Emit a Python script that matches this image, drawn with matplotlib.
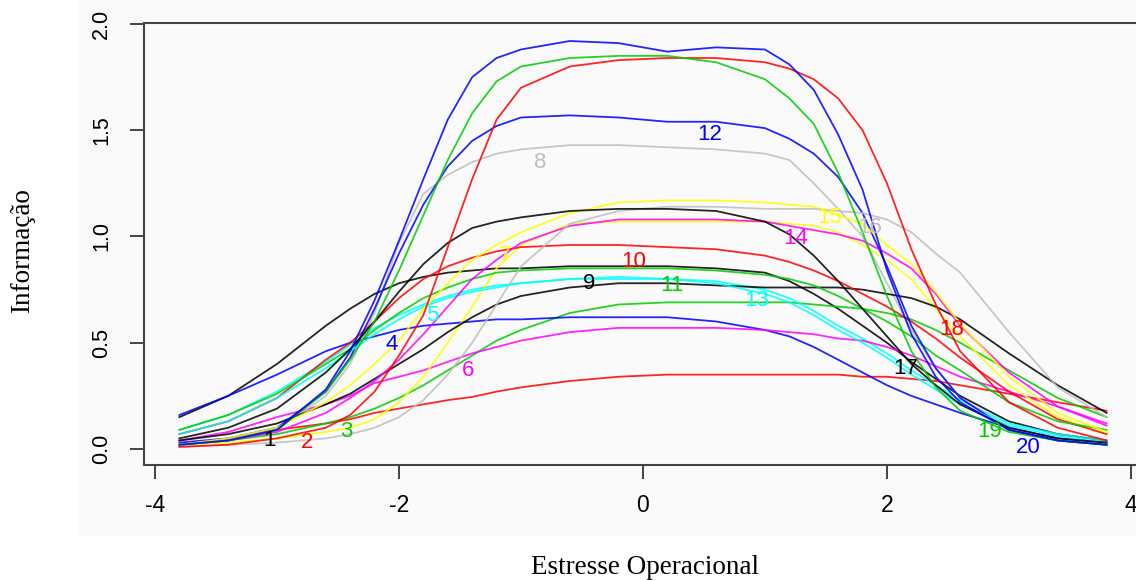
import matplotlib
matplotlib.use("Agg")
import matplotlib.pyplot as plt
from matplotlib.patches import Rectangle

# theta grid the curves were read on
theta = [-3.8, -3.4, -3.0, -2.6, -2.4, -2.2, -2.0, -1.8, -1.6, -1.4, -1.2, -1.0,
         -0.6, -0.2, 0.2, 0.6, 1.0, 1.2, 1.4, 1.6, 1.8, 2.0, 2.2, 2.4, 2.6, 3.0, 3.4, 3.8]

# item information (items 1..20)
info_01 = [.15, .25, .40, .58, .66, .73, .78, .81, .83, .84, .85, .85, .86, .86, .86, .85,
           .83, .79, .73, .66, .58, .50, .41, .33, .25, .13, .07, .04]
info_02 = [.02, .04, .09, .12, .14, .17, .19, .21, .23, .245, .27, .29, .32, .34, .35, .35,
           .35, .35, .35, .35, .34, .34, .33, .32, .30, .26, .22, .18]
info_03 = [.02, .04, .07, .12, .15, .19, .24, .30, .37, .44, .51, .56, .64, .68, .69, .69,
           .69, .69, .68, .67, .66, .64, .61, .56, .50, .37, .24, .15]
info_04 = [.16, .25, .35, .46, .50, .53, .56, .58, .59, .60, .61, .61, .62, .62, .62, .60,
           .56, .53, .48, .42, .36, .30, .25, .21, .17, .10, .05, .03]
info_05 = [.09, .16, .27, .41, .49, .57, .63, .68, .72, .75, .77, .78, .80, .80, .80, .79,
           .75, .71, .65, .58, .52, .45, .37, .30, .23, .12, .07, .04]
info_06 = [.04, .08, .15, .21, .25, .31, .34, .37, .41, .45, .48, .51, .55, .57, .57, .57,
           .56, .55, .54, .52, .51, .48, .44, .39, .34, .27, .20, .12]
info_07 = [.02, .03, .05, .08, .10, .14, .22, .34, .50, .67, .85, .96, 1.06, 1.07, 1.07, 1.07,
           1.07, 1.06, 1.05, 1.02, .96, .89, .80, .66, .53, .30, .15, .07]
info_08 = [.02, .04, .09, .25, .40, .64, .97, 1.20, 1.29, 1.35, 1.39, 1.41, 1.43, 1.43, 1.42, 1.41,
           1.39, 1.36, 1.25, 1.13, 1.00, .78, .56, .38, .24, .10, .04, .02]
info_09 = [.04, .07, .12, .21, .26, .33, .40, .47, .55, .62, .68, .72, .76, .78, .78, .77,
           .76, .76, .76, .76, .75, .73, .71, .67, .61, .45, .30, .17]
info_10 = [.07, .13, .24, .42, .50, .60, .71, .80, .86, .90, .93, .95, .96, .96, .95, .94,
           .91, .88, .84, .79, .73, .67, .60, .52, .43, .27, .14, .07]
info_11 = [.09, .16, .26, .40, .47, .56, .64, .71, .76, .80, .83, .84, .85, .85, .85, .84,
           .82, .80, .77, .72, .66, .60, .53, .44, .37, .22, .13, .09]
info_12 = [.03, .05, .10, .27, .43, .66, .92, 1.15, 1.33, 1.45, 1.52, 1.56, 1.57, 1.56, 1.54, 1.54,
           1.51, 1.46, 1.39, 1.28, 1.11, .86, .58, .38, .24, .09, .04, .02]
info_13 = [.07, .13, .24, .38, .46, .54, .61, .67, .71, .74, .76, .78, .80, .81, .80, .78,
           .73, .69, .63, .56, .50, .43, .35, .28, .21, .11, .06, .03]
info_14 = [.02, .04, .08, .17, .24, .32, .42, .54, .67, .80, .89, .97, 1.05, 1.08, 1.08, 1.08,
           1.07, 1.05, 1.03, 1.01, .98, .92, .85, .73, .58, .36, .20, .11]
info_15 = [.02, .05, .10, .22, .30, .40, .51, .66, .78, .89, .96, 1.02, 1.11, 1.16, 1.17, 1.17,
           1.16, 1.15, 1.14, 1.10, 1.06, .96, .87, .74, .59, .34, .17, .08]
info_16 = [.01, .02, .03, .05, .07, .10, .15, .23, .35, .50, .68, .86, 1.06, 1.12, 1.14, 1.14,
           1.13, 1.13, 1.13, 1.12, 1.11, 1.08, 1.02, .92, .83, .55, .29, .15]
info_17 = [.05, .10, .19, .36, .47, .60, .74, .87, .97, 1.04, 1.07, 1.09, 1.12, 1.13, 1.13, 1.12,
           1.07, 1.01, .91, .79, .66, .53, .40, .30, .21, .10, .05, .03]
info_18 = [.01, .02, .05, .10, .16, .27, .44, .63, .95, 1.27, 1.55, 1.70, 1.80, 1.83, 1.84, 1.84,
           1.82, 1.79, 1.74, 1.65, 1.50, 1.25, .94, .68, .46, .22, .10, .04]
info_19 = [.02, .04, .09, .27, .42, .60, .84, 1.10, 1.36, 1.58, 1.73, 1.80, 1.84, 1.85, 1.85, 1.82,
           1.74, 1.65, 1.53, 1.30, 1.02, .72, .46, .29, .18, .08, .04, .02]
info_20 = [.02, .04, .09, .28, .46, .70, .98, 1.27, 1.55, 1.75, 1.84, 1.88, 1.92, 1.91, 1.87, 1.89,
           1.88, 1.81, 1.69, 1.48, 1.22, .84, .54, .34, .22, .09, .04, .02]

items = [info_01, info_02, info_03, info_04, info_05, info_06, info_07, info_08, info_09, info_10,
         info_11, info_12, info_13, info_14, info_15, info_16, info_17, info_18, info_19, info_20]
item_names = [str(i) for i in range(1, 21)]

# where each item number is written
label_x = [-3.06, -2.75, -2.43, -2.06, -1.73, -1.43, -1.13, -0.84, -0.44, -0.08,
           0.24, 0.55, 0.93, 1.25, 1.53, 1.86, 2.15, 2.53, 2.84, 3.16]
label_y = [0.04, 0.03, 0.08, 0.49, 0.63, 0.37, 0.91, 1.35, 0.78, 0.88,
           0.77, 1.48, 0.70, 0.99, 1.09, 1.04, 0.38, 0.56, 0.08, 0.005]

# old R palette, recycled over the 20 items
palette = ['black', '#FF0000', '#00CD00', '#0000FF', '#00FFFF', '#FF00FF', '#FFFF00', '#BEBEBE']

fig = plt.figure(figsize=(11.36, 5.80), dpi=100)
fig.patches.append(Rectangle((78 / 1136, 1 - 535 / 580), 1, 1, transform=fig.transFigure,
                             color='#fafafa', zorder=-10))

ax = fig.add_axes([144 / 1136, 115 / 580, 1006 / 1136, 442 / 580])
ax.patch.set_visible(False)

for i, vals in enumerate(items):
    col = palette[i % 8]
    ax.plot(theta, vals, color=col, lw=1.3, alpha=0.85, solid_joinstyle='round')
for i, name in enumerate(item_names):
    ax.text(label_x[i], label_y[i], name, color=palette[i % 8], fontsize=16,
            family='Liberation Sans', ha='center', va='center')

ax.set_xlim(-4.09, 4.156)
ax.set_ylim(-0.0753, 2.0047)
ax.set_xticks([-4, -2, 0, 2, 4])
ax.set_xticklabels(['-4', '-2', '0', '2', '4'])
ax.set_yticks([0, 0.5, 1.0, 1.5, 2.0])
ax.set_yticklabels(['0.0', '0.5', '1.0', '1.5', '2.0'])

ax.spines['right'].set_visible(False)
for s in ['top', 'left', 'bottom']:
    ax.spines[s].set_color('#444444')
    ax.spines[s].set_linewidth(1.5)

ax.tick_params(axis='both', direction='out', length=10, width=1.4, color='#444444')
ax.tick_params(axis='x', labelsize=16.5, pad=11)
ax.tick_params(axis='y', labelsize=15.5, pad=13)
for t in ax.get_xticklabels():
    t.set_family('Liberation Sans')
for t in ax.get_yticklabels():
    t.set_family('Liberation Sans')
    t.set_rotation(90)
    t.set_va('center')

fig.text(645 / 1136, 1 - 567 / 580, 'Estresse Operacional', family='Liberation Serif',
         fontsize=19.5, ha='center', va='center')
fig.text(23 / 1136, 1 - 251 / 580, 'Informação', family='Liberation Serif',
         fontsize=19.5, ha='center', va='center', rotation=90)

fig.savefig('out.png', dpi=100)
